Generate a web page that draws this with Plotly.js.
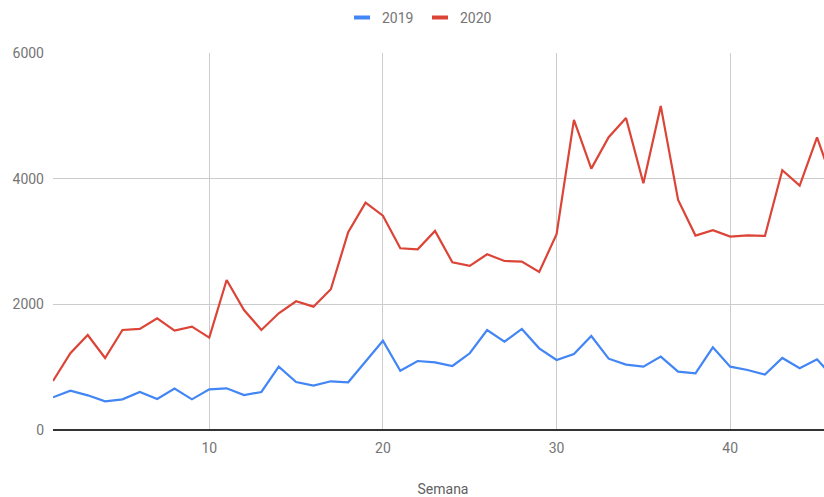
<!DOCTYPE html>
<html>
<head>
<meta charset="utf-8">
<script src="https://cdn.plot.ly/plotly-3.0.1.min.js"></script>
<style>
  html, body { margin: 0; padding: 0; background: #fff; overflow: hidden; }
  #chart { width: 833px; height: 497px; }
</style>
</head>
<body>
<div id="chart"></div>
<script>
// Semanas del año
const semanas = [];
for (let s = 1; s <= 46; s++) semanas.push(s);

// Valores por semana
const valores2019 = [520, 626, 552, 457, 488, 605, 494, 658, 488, 647,
                     663, 557, 605, 1008, 764, 706, 775, 759, 1090, 1420,
                     944, 1098, 1077, 1019, 1221, 1592, 1406, 1608, 1300, 1114,
                     1210, 1496, 1135, 1040, 1008, 1167, 928, 902, 1316, 1008,
                     955, 881, 1146, 982, 1125, 820];
const valores2020 = [780, 1221, 1512, 1146, 1592, 1608, 1778, 1581, 1645, 1470,
                     2388, 1910, 1592, 1858, 2049, 1963, 2240, 3147, 3619, 3410,
                     2892, 2876, 3168, 2669, 2611, 2797, 2690, 2680, 2515, 3115,
                     4935, 4160, 4659, 4967, 3927, 5158, 3662, 3094, 3179, 3078,
                     3099, 3088, 4134, 3890, 4659, 3870];

const series = ['2019', '2020'];
const colores = ['#4285F4', '#DB4437'];
const datos = [valores2019, valores2020];

// Geometría del área de trazado (px)
const W = 833, H = 497, ML = 53, MT = 53, MB = 67;
const PW = W - ML, PH = H - MT - MB;
const xp = px => (px - ML) / PW;
const yp = py => (MT + PH - py) / PH;

const traces = series.map((nombre, i) => ({
  x: semanas,
  y: datos[i],
  name: nombre,
  type: 'scatter',
  mode: 'lines',
  line: { color: colores[i], width: 2.2 },
  hoverinfo: 'x+y+name'
}));

// Leyenda superior: barra de color + texto
const legendBars = [354, 432];
const legendText = [380, 458];
const shapes = series.map((nombre, i) => ({
  type: 'line', xref: 'paper', yref: 'paper',
  x0: xp(legendBars[i]), x1: xp(legendBars[i] + 16),
  y0: yp(17.5), y1: yp(17.5),
  line: { color: colores[i], width: 4 }
}));
const annotations = series.map((nombre, i) => ({
  text: nombre, xref: 'paper', yref: 'paper',
  x: xp(legendText[i]), y: yp(18),
  xanchor: 'left', yanchor: 'middle', showarrow: false,
  font: { family: 'Roboto, sans-serif', size: 14, color: '#757575' }
}));

const layout = {
  width: W, height: H,
  margin: { l: ML, r: 0, t: MT, b: MB, pad: 0 },
  paper_bgcolor: '#fff', plot_bgcolor: '#fff',
  showlegend: false,
  font: { family: 'Roboto, sans-serif', size: 14, color: '#757575' },
  xaxis: {
    range: [1, 40 + (W - 730) / 17.4],
    tickvals: [10, 20, 30, 40],
    showgrid: true, gridcolor: '#cccccc', gridwidth: 1,
    zeroline: false, showline: false, ticks: '',
    ticklabelstandoff: 8,
    automargin: false,
    title: { text: 'Semana', standoff: 29, font: { size: 14, color: '#616161' } }
  },
  yaxis: {
    range: [0, 6000],
    tickvals: [0, 2000, 4000, 6000],
    showgrid: true, gridcolor: '#cccccc', gridwidth: 1,
    zeroline: true, zerolinecolor: '#333333', zerolinewidth: 1.5,
    showline: false, ticks: '',
    ticklabelstandoff: 8,
    automargin: false
  },
  shapes: shapes,
  annotations: annotations
};

Plotly.newPlot('chart', traces, layout, { displayModeBar: false, staticPlot: true });
</script>
</body>
</html>
